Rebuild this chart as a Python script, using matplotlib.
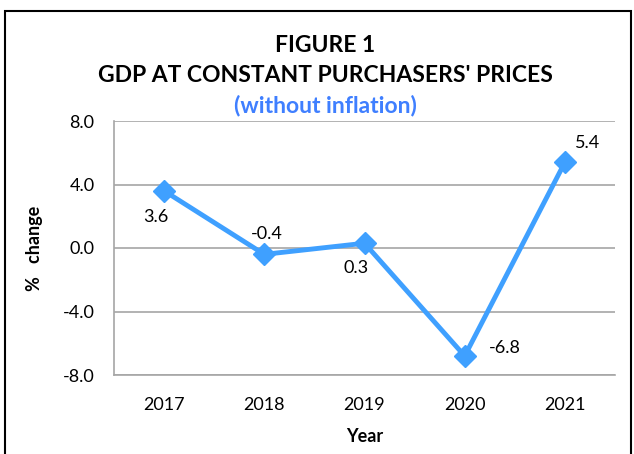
import matplotlib.pyplot as plt
from matplotlib.patches import Rectangle

# ---------- data -------------------------------------------------------------
years = ['2017', '2018', '2019', '2020', '2021']
gdp_change = [3.6, -0.4, 0.3, -6.8, 5.4]
y_ticks = [-8.0, -4.0, 0.0, 4.0, 8.0]

LINE_BLUE = '#3fa0ff'
TITLE_BLUE = '#3f7fff'
GRID_GREY = '#a6a6a6'

plt.rcParams['font.family'] = ['Lato', 'DejaVu Sans']

fig = plt.figure(figsize=(6.34, 4.54), dpi=100)

# outer frame around the chart (bottom edge runs off the picture)
fig.patches.append(Rectangle((5 / 634, -0.05), 626 / 634, 1.05 - 11 / 454,
                             transform=fig.transFigure, fill=False,
                             edgecolor='black', linewidth=1.5))

ax = fig.add_axes([114 / 634, 1 - 375 / 454, 501 / 634, 254 / 454])

x = list(range(len(years)))
ax.plot(x, gdp_change, color=LINE_BLUE, linewidth=3.5, marker='D',
        markersize=11, solid_joinstyle='miter', zorder=3, clip_on=False)

# data labels: (dx, dy) in points relative to the marker
offsets = [(-6, -19), (2, 15), (-6, -18), (29, 6), (16, 14)]
for xi, v, (dx, dy) in zip(x, gdp_change, offsets):
    ax.annotate(f"{v:.1f}", (xi, v), xytext=(dx, dy), textcoords='offset points',
                ha='center', va='center', fontsize=13)

ax.set_xlim(-0.5, len(years) - 0.5)
ax.set_ylim(-8, 8)
ax.set_yticks(y_ticks)
ax.set_yticklabels([f"{t:.1f}" for t in y_ticks])
ax.set_xticks(x)
ax.set_xticklabels(years)
ax.tick_params(length=0, labelsize=13, pad=14)
ax.tick_params(axis='x', pad=16)

ax.grid(axis='y', color=GRID_GREY, linewidth=1.2)
ax.set_axisbelow(True)
for side in ['top', 'right']:
    ax.spines[side].set_visible(False)
for side in ['left', 'bottom']:
    ax.spines[side].set_color(GRID_GREY)
    ax.spines[side].set_linewidth(1.2)

ax.set_xlabel("Year", fontsize=13, fontweight='bold', labelpad=11)
ax.set_ylabel("%   change", fontsize=13, fontweight='bold', labelpad=14)

fig.text(0.513, 1 - 45 / 454, "FIGURE 1", ha='center', va='center',
         fontsize=16.5, fontweight='bold')
fig.text(0.513, 1 - 75 / 454, "GDP AT CONSTANT PURCHASERS' PRICES", ha='center',
         va='center', fontsize=16.5, fontweight='bold')
fig.text(0.513, 1 - 105 / 454, "(without inflation)", ha='center', va='center',
         fontsize=16.5, fontweight='bold', color=TITLE_BLUE)

fig.savefig('out.png', dpi=100)
